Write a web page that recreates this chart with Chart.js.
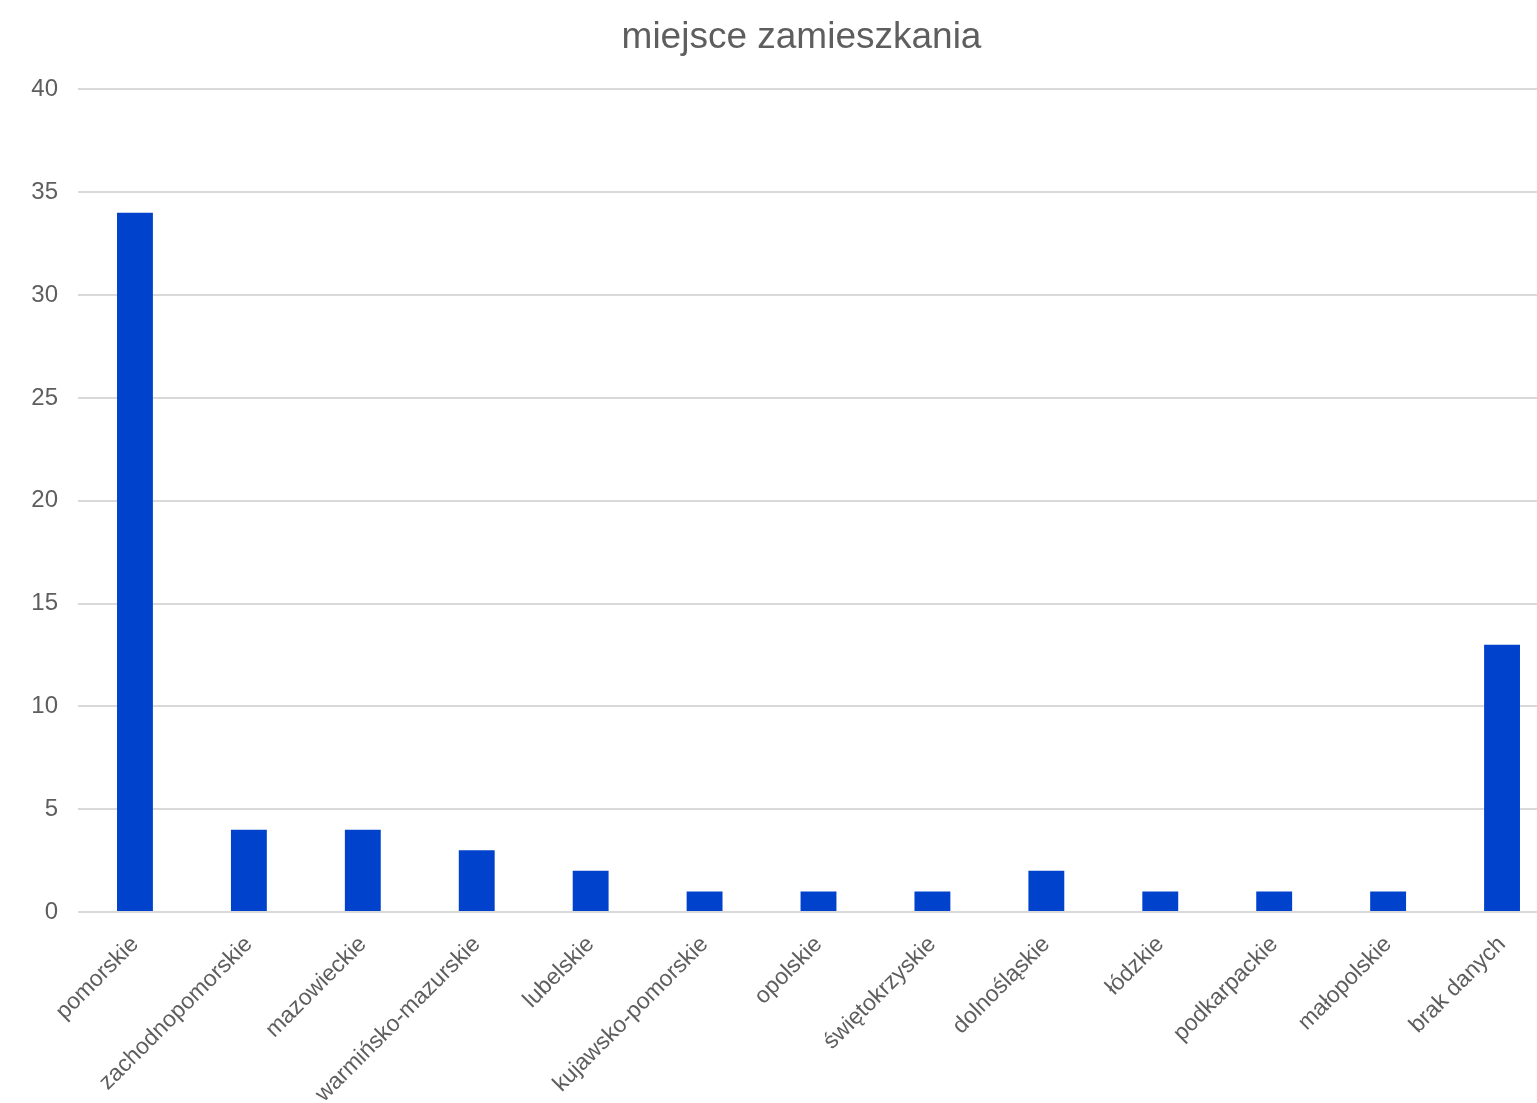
<!DOCTYPE html>
<html>
<head>
<meta charset="utf-8">
<script src="https://cdn.jsdelivr.net/npm/chart.js@4"></script>
<style>
  html, body { margin: 0; padding: 0; background: #fff; overflow: hidden; }
  #wrap { position: relative; width: 1603px; height: 1103px; }
</style>
</head>
<body>
<div id="wrap"><canvas id="barChart"></canvas></div>
<script>
// Dane wykresu
const categories = ['pomorskie', 'zachodnopomorskie', 'mazowieckie', 'warmińsko-mazurskie', 'lubelskie',
    'kujawsko-pomorskie', 'opolskie', 'świętokrzyskie', 'dolnośląskie', 'łódzkie', 'podkarpackie',
    'małopolskie', 'brak danych'];
const counts = [34, 4, 4, 3, 2, 1, 1, 1, 2, 1, 1, 1, 13];
const yTicks = [0, 5, 10, 15, 20, 25, 30, 35, 40];

const grey = '#5e5e5e';
Chart.defaults.font.family = '"Liberation Sans", Arial, sans-serif';

const ctx = document.getElementById('barChart').getContext('2d');
const barChart = new Chart(ctx, {
    type: 'bar',
    data: {
        labels: categories,
        datasets: [{
            label: 'miejsce zamieszkania',
            data: counts,
            backgroundColor: '#0042cc',
            barPercentage: 0.315,
            categoryPercentage: 1
        }]
    },
    options: {
        responsive: true,
        maintainAspectRatio: false,
        animation: false,
        plugins: {
            legend: { display: false },
            tooltip: { enabled: false },
            title: {
                display: true,
                text: 'miejsce zamieszkania',
                color: grey,
                font: { size: 37, weight: 'normal' },
                padding: { top: 16, bottom: 29 }
            }
        },
        scales: {
            x: {
                grid: { display: false },
                border: { display: false },
                ticks: {
                    color: grey,
                    font: { size: 23 },
                    maxRotation: 45,
                    minRotation: 45,
                    padding: 11,
                    autoSkip: false
                },
                afterFit: (scale) => { scale.height = 191; }
            },
            y: {
                min: 0,
                max: 40,
                afterBuildTicks: (scale) => { scale.ticks = yTicks.map(v => ({ value: v })); },
                grid: { color: '#d9d9d9', lineWidth: 2, drawTicks: false },
                border: { display: false },
                ticks: {
                    color: grey,
                    font: { size: 24 },
                    padding: 20
                },
                afterFit: (scale) => { scale.width = 78; }
            },
            // axe vide à droite : réserve la marge droite du graphique original (coupée par la fenêtre)
            yRight: {
                position: 'right',
                min: 0,
                max: 40,
                grid: { display: false },
                border: { display: false },
                ticks: { display: false },
                afterFit: (scale) => { scale.width = 44; }
            }
        }
    }
});
</script>
</body>
</html>
